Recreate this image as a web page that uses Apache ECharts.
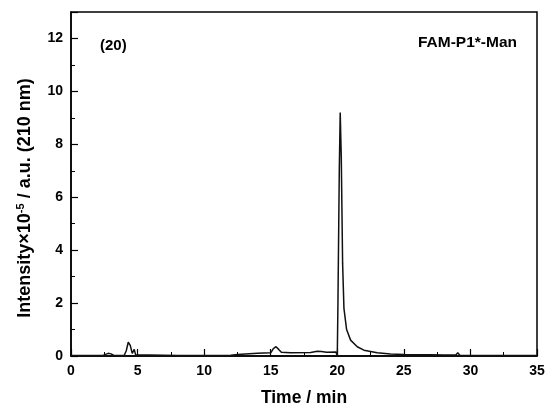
<!DOCTYPE html>
<html>
<head>
<meta charset="utf-8">
<script src="https://cdn.jsdelivr.net/npm/echarts@6/dist/echarts.min.js"></script>
<style>
  html, body { margin: 0; padding: 0; background: #fff; }
  #main { width: 553px; height: 412px; }
</style>
</head>
<body>
<div id="main"></div>
<script>
// chromatogram
const time = [0, 2.4, 2.6, 2.8, 3.0, 3.2, 3.5, 4.0, 4.15, 4.3, 4.45, 4.6, 4.7, 4.75, 4.85, 5.0,
  8, 12, 12.5, 14, 15, 15.2, 15.4, 15.6, 15.8, 16.5, 18, 18.5, 18.8, 19.2, 19.9, 20.0,
  20.05, 20.15, 20.22, 20.3, 20.4, 20.5, 20.7, 21, 21.5, 22, 23, 24, 25, 27, 28, 28.9,
  29.05, 29.2, 30, 35];
const intensity = [0.02, 0.02, 0.06, 0.1, 0.08, 0.03, 0.02, 0.03, 0.2, 0.52, 0.4, 0.1, 0.05, 0.25, 0.05, 0.02,
  0.02, 0.03, 0.06, 0.1, 0.12, 0.28, 0.35, 0.25, 0.14, 0.12, 0.13, 0.18, 0.17, 0.14, 0.15, 0.0,
  2, 7, 9.2, 7.5, 3.5, 1.8, 1.0, 0.6, 0.35, 0.22, 0.12, 0.08, 0.06, 0.05, 0.04, 0.04,
  0.12, 0.03, 0.02, 0.02];

const sampleLabel = '(20)';
const compound = 'FAM-P1*-Man';

const font = 'Liberation Sans, Arial, sans-serif';
const chart = echarts.init(document.getElementById('main'));

chart.setOption({
  animation: false,
  grid: {
    left: 71, right: 16, top: 12, bottom: 55,
    show: true, borderColor: '#000', borderWidth: 1.5
  },
  xAxis: {
    type: 'value',
    min: 0, max: 35, interval: 5,
    name: 'Time / min',
    nameLocation: 'middle',
    nameGap: 33,
    nameTextStyle: { fontFamily: font, fontWeight: 'bold', fontSize: 17.5, color: '#000' },
    axisLine: { lineStyle: { color: '#000', width: 1.5 } },
    axisTick: { inside: true, length: 7, lineStyle: { color: '#000', width: 1.2 } },
    minorTick: { show: true, splitNumber: 2, length: 4, lineStyle: { color: '#000', width: 1 } },
    axisLabel: { fontFamily: font, fontWeight: 'bold', fontSize: 14, color: '#000', margin: 8 },
    splitLine: { show: false }
  },
  yAxis: {
    type: 'value',
    min: 0, max: 13, interval: 2,
    name: 'Intensity×10{sup|-5} / a.u. (210 nm)',
    nameLocation: 'middle',
    nameGap: 36,
    nameTextStyle: {
      fontFamily: font, fontWeight: 'bold', fontSize: 18, color: '#000',
      padding: [0, 28, 0, 0],
      rich: { sup: { fontFamily: font, fontWeight: 'bold', fontSize: 11, color: '#000', verticalAlign: 'top', padding: [0, 0, 9, 0] } }
    },
    axisLine: { lineStyle: { color: '#000', width: 1.5 } },
    axisTick: { inside: true, length: 7, lineStyle: { color: '#000', width: 1.2 } },
    minorTick: { show: true, splitNumber: 2, length: 4, lineStyle: { color: '#000', width: 1 } },
    axisLabel: { fontFamily: font, fontWeight: 'bold', fontSize: 14, color: '#000', margin: 8, showMaxLabel: false },
    splitLine: { show: false }
  },
  graphic: [
    { type: 'text', left: 100, top: 38.5, style: { text: sampleLabel, font: 'bold 15px ' + font, fill: '#000' } },
    { type: 'text', right: 36, top: 35, style: { text: compound, font: 'bold 15.5px ' + font, fill: '#000' } }
  ],
  series: [{
    type: 'line',
    data: time.map((t, i) => [t, intensity[i]]),
    showSymbol: false,
    lineStyle: { color: '#111', width: 1.5 }
  }]
});
</script>
</body>
</html>
